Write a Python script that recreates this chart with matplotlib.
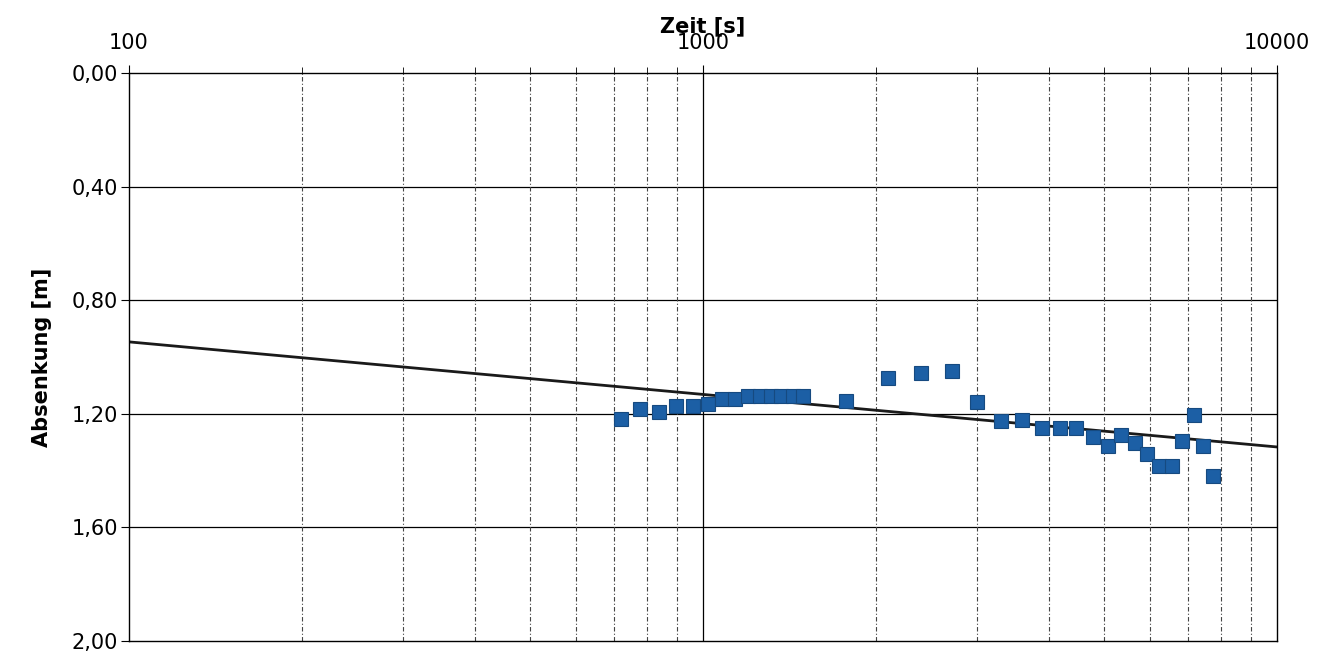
import numpy as np
import matplotlib.pyplot as plt
from matplotlib.ticker import FixedLocator, FuncFormatter, NullFormatter

# Messwerte (Zeit [s], Absenkung [m])
zeit = [720, 778, 837, 898, 959, 1019, 1078, 1138, 1200, 1258, 1314, 1368,
        1432, 1492, 1774, 2097, 2399, 2711, 3001, 3304, 3588, 3888, 4192,
        4463, 4770, 5067, 5358, 5652, 5944, 6231, 6556, 6841, 7170, 7441,
        7745]
absenkung = [1.22, 1.183, 1.194, 1.174, 1.174, 1.164, 1.149, 1.149, 1.136,
             1.136, 1.136, 1.136, 1.136, 1.136, 1.154, 1.073, 1.057, 1.050,
             1.158, 1.224, 1.223, 1.250, 1.249, 1.249, 1.283, 1.312, 1.276,
             1.303, 1.340, 1.384, 1.383, 1.295, 1.206, 1.315, 1.420]

# Ausgleichsgerade (semilog)
fit_zeit = [100, 10000]
fit_absenkung = [0.947, 1.317]

y_ticks = [0.0, 0.4, 0.8, 1.2, 1.6, 2.0]
x_major = [100, 1000, 10000]
x_minor = [k * 10**e for e in (2, 3) for k in range(2, 10)]

fig = plt.figure(figsize=(13.35, 6.56), dpi=100)
ax = fig.add_axes([0.0966, 0.0229, 0.86, 0.866])

ax.set_xscale('log')
ax.set_xlim(100, 10000)
ax.set_ylim(2.0, 0.0)

# Gitter
for y in y_ticks[1:-1]:
    ax.axhline(y, color='black', lw=0.9, zorder=1)
for x in x_minor:
    ax.axvline(x, color='#444444', lw=0.8, ls=(0, (4, 2, 1, 2)), zorder=1)
ax.axvline(1000, color='black', lw=0.9, zorder=1)

ax.plot(fit_zeit, fit_absenkung, color='#1a1a1a', lw=2.0, zorder=2)
ax.plot(zeit, absenkung, ls='none', marker='s', ms=9.5,
        mfc='#1c5fa5', mec='#164a80', mew=0.8, zorder=3)

ax.xaxis.set_ticks_position('top')
ax.xaxis.set_label_position('top')
ax.xaxis.set_major_locator(FixedLocator(x_major))
ax.xaxis.set_minor_locator(FixedLocator(x_minor))
ax.xaxis.set_major_formatter(FuncFormatter(lambda v, p: f'{int(round(v))}'))
ax.xaxis.set_minor_formatter(NullFormatter())
ax.tick_params(axis='x', which='major', length=6, labelsize=15, pad=8)
ax.tick_params(axis='x', which='minor', length=4)

ax.set_yticks(y_ticks)
ax.yaxis.set_major_formatter(FuncFormatter(lambda v, p: f'{v:.2f}'.replace('.', ',')))
ax.tick_params(axis='y', length=6, labelsize=15, pad=2)

ax.set_xlabel('Zeit [s]', fontsize=15, fontweight='bold', labelpad=1)
ax.set_ylabel('Absenkung [m]', fontsize=15, fontweight='bold', labelpad=14)

for s in ax.spines.values():
    s.set_linewidth(1.0)

fig.savefig('out.png', dpi=100)
